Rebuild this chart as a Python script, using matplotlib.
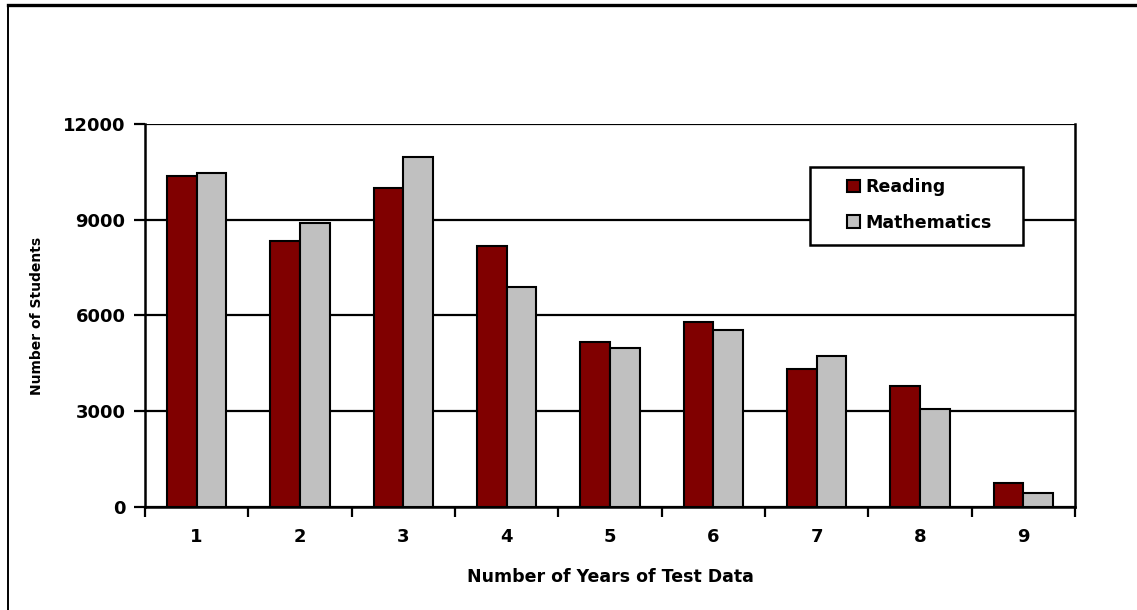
import matplotlib.pyplot as plt
import numpy as np
from matplotlib.lines import Line2D
from matplotlib.patches import Rectangle

# values
years = ["1", "2", "3", "4", "5", "6", "7", "8", "9"]
reading = [10370, 8330, 9990, 8180, 5170, 5800, 4330, 3790, 750]
mathematics = [10460, 8900, 10960, 6890, 4980, 5550, 4740, 3070, 440]
y_ticks = [0, 3000, 6000, 9000, 12000]

plt.rcParams['font.family'] = 'DejaVu Sans'
plt.rcParams['font.weight'] = 'bold'

fig = plt.figure(figsize=(11.37, 6.10), dpi=100)
ax = fig.add_axes([0.1275, 0.1689, 0.818, 0.6279])

x = np.arange(1, len(years) + 1)
w = 0.286
ax.bar(x - w / 2, reading, w, color="#800000", edgecolor="black", linewidth=1.5,
       label="Reading", zorder=3)
ax.bar(x + w / 2, mathematics, w, color="#C0C0C0", edgecolor="black", linewidth=1.5,
       label="Mathematics", zorder=3)

ax.set_xlim(0.5, len(years) + 0.5)
ax.set_ylim(0, 12000)
ax.set_yticks(y_ticks)
ax.set_yticklabels([str(v) for v in y_ticks], fontsize=13, fontweight='bold')
ax.yaxis.grid(True, color="black", linewidth=1.6, zorder=0)
ax.set_axisbelow(True)

# ticks at category boundaries, labels at the centres
ax.set_xticks(np.arange(0.5, len(years) + 1, 1))
ax.set_xticklabels([])
ax.set_xticks(x, minor=True)
ax.set_xticklabels(years, minor=True, fontsize=13, fontweight='bold')
ax.tick_params(axis='x', which='major', direction='out', length=7, width=1.6)
ax.tick_params(axis='x', which='minor', length=0, pad=15)
ax.tick_params(axis='y', direction='out', length=8, width=1.6, pad=6)

for s in ["left", "bottom", "right"]:
    ax.spines[s].set_linewidth(1.8)
ax.spines["top"].set_visible(False)

ax.set_xlabel("Number of Years of Test Data", fontsize=12.5, fontweight='bold', labelpad=16)
ax.set_ylabel("Number of Students", fontsize=10, fontweight='bold', labelpad=14)

# legend box drawn separately so it can be wider than its entries
ax.add_patch(Rectangle((0.715, 0.684), 0.229, 0.204, transform=ax.transAxes,
                       facecolor="white", edgecolor="black", linewidth=1.8, zorder=4))
leg = ax.legend(loc="upper left", bbox_to_anchor=(0.755, 0.859), fontsize=12.5,
                frameon=False, handlelength=0.75, handleheight=0.75,
                handletextpad=0.3, labelspacing=1.02, borderpad=0, borderaxespad=0)
leg.set_zorder(5)
for t in leg.get_texts():
    t.set_fontweight('bold')

# outer frame of the original chart area
fig.add_artist(Line2D([8 / 1137, 1], [1 - 5 / 610, 1 - 5 / 610],
                      transform=fig.transFigure, color="black", linewidth=2.4))
fig.add_artist(Line2D([8 / 1137, 8 / 1137], [0, 1 - 5 / 610],
                      transform=fig.transFigure, color="black", linewidth=1.4))

plt.savefig("out.png", dpi=100)
plt.close()
